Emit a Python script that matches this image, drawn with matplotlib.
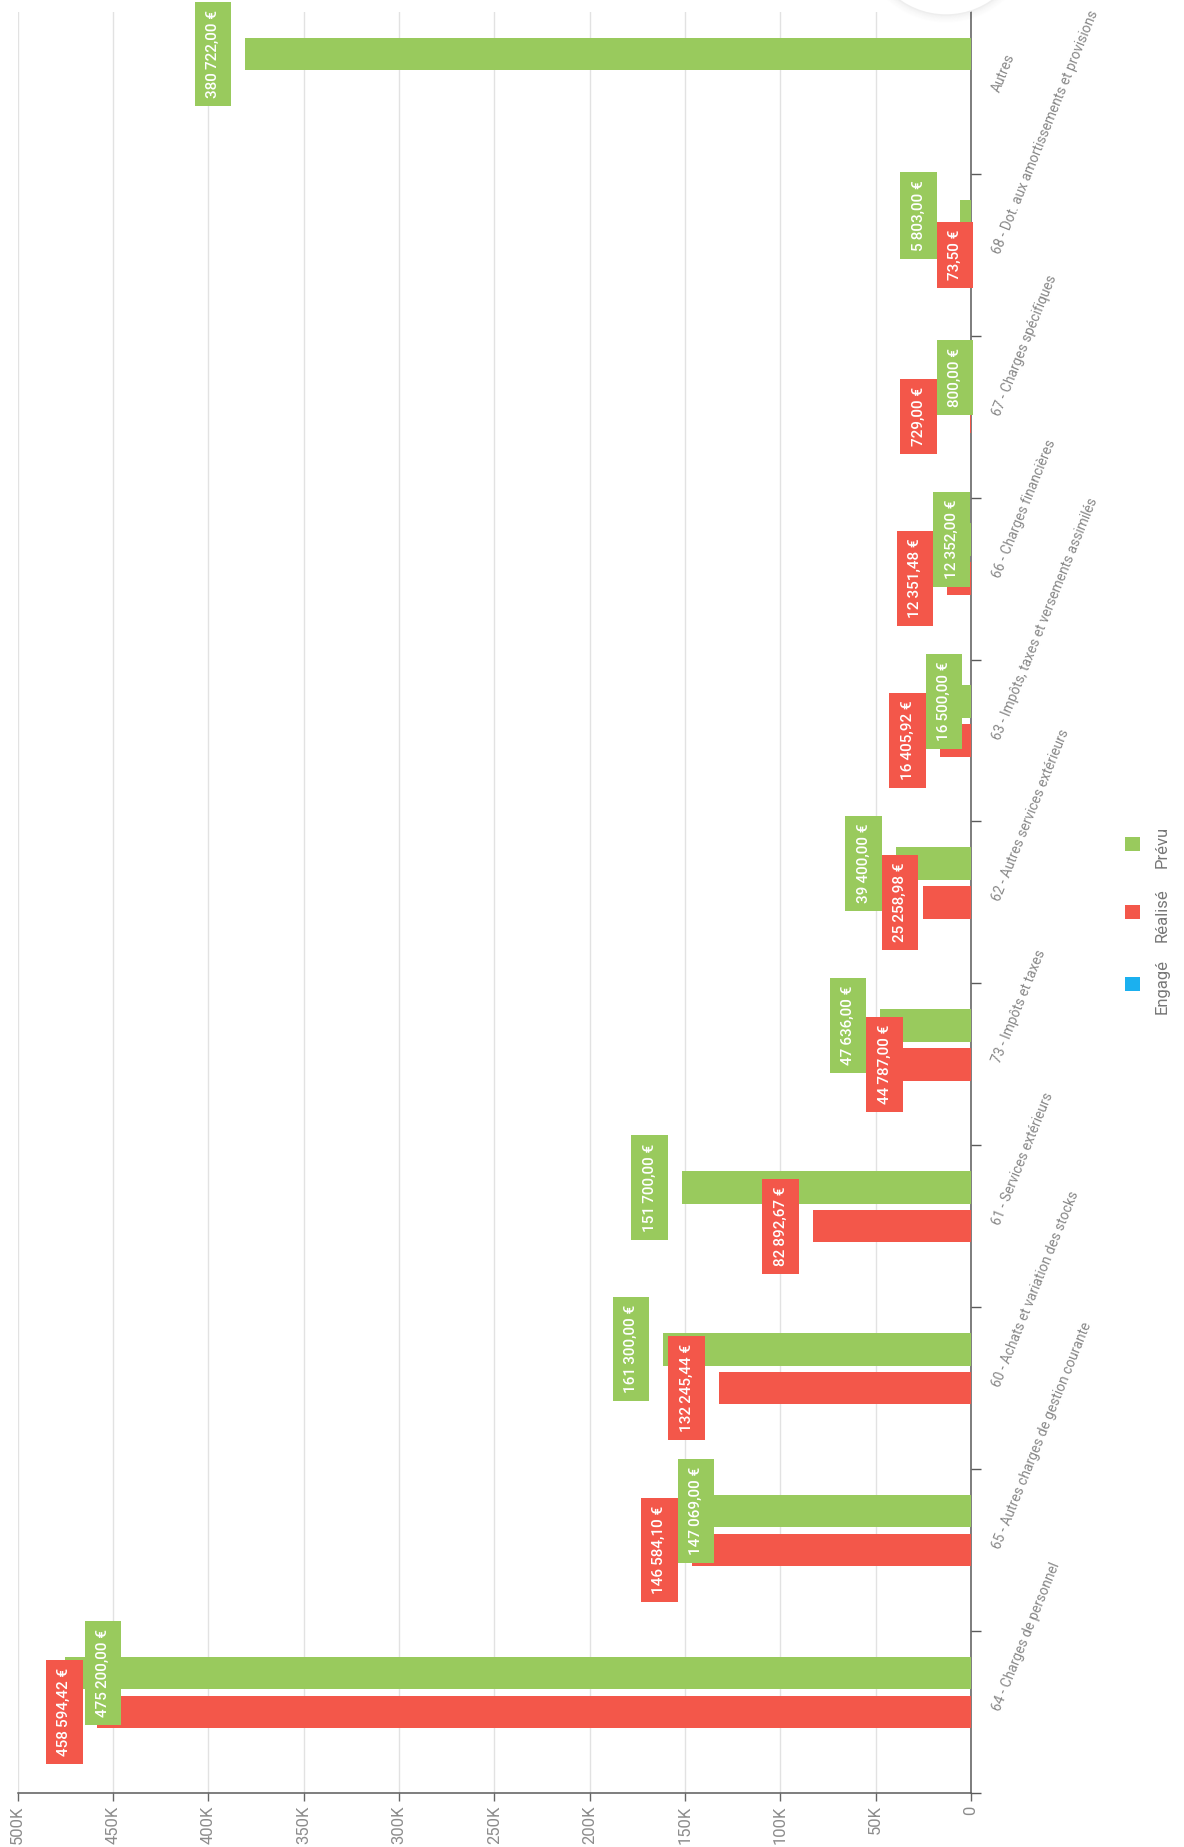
import numpy as np
import matplotlib
matplotlib.use('Agg')
import matplotlib.pyplot as plt
import matplotlib.patches as mpatches

# ─── DATA ─────────────────────────────────────────────────────────────────
categories = [
    "64 - Charges de personnel",
    "65 - Autres charges de gestion courante",
    "60 - Achats et variation des stocks",
    "61 - Services extérieurs",
    "73 - Impôts et taxes",
    "62 - Autres services extérieurs",
    "63 - Impôts, taxes et versements assimilés",
    "66 - Charges financières",
    "67 - Charges spécifiques",
    "68 - Dot. aux amortissements et provisions",
    "Autres",
]
prevu   = [475200.00, 147069.00, 161300.00, 151700.00, 47636.00, 39400.00,
           16500.00, 12352.00, 800.00, 5803.00, 380722.00]
realise = [458594.42, 146584.10, 132245.44, 82892.67, 44787.00, 25258.98,
           16405.92, 12351.48, 729.00, 73.50, 0.0]
engage  = [0.0] * len(categories)

x_ticks = np.arange(0, 500001, 50000)

GREEN = '#99ca5d'
RED = '#f3574a'
BLUE = '#1bb0ef'
FONT = ['Roboto', 'DejaVu Sans']

W_PX, H_PX = 1184, 1847
X0, X1 = 17.7, 971.0      # pixel x of 500K and 0
Y0, Y1 = 11.8, 1793.0     # pixel y of plot top / bottom
XMAX = 500000

fig = plt.figure(figsize=(W_PX / 100, H_PX / 100), dpi=100, facecolor='white')
ax = fig.add_axes([X0 / W_PX, 1 - Y1 / H_PX, (X1 - X0) / W_PX, (Y1 - Y0) / H_PX])
ax.set_facecolor('none')

y = np.arange(len(categories))
OFF, BW = 0.24, 0.2
ax.barh(y + OFF, prevu, height=BW, color=GREEN, zorder=3)
ax.barh(y, realise, height=BW, color=RED, zorder=3)
ax.barh(y - OFF, engage, height=BW, color=BLUE, zorder=3)

ax.set_xlim(XMAX, 0)
ax.set_ylim(-0.5, len(categories) - 0.5)

# value axis
ax.set_xticks(x_ticks)
ax.set_xticklabels(['0' if v == 0 else f'{int(v / 1000)}K' for v in x_ticks],
                   rotation=90, fontsize=12, color='#8c8c8c', family=FONT)
ax.tick_params(axis='x', length=6, width=1, color='#666666', pad=3)
ax.grid(axis='x', color='#e2e2e2', lw=1, zorder=0)

# category axis (zero line on the right)
for side in ['top', 'left']:
    ax.spines[side].set_visible(False)
for side in ['right', 'bottom']:
    ax.spines[side].set_color('#5a5a5a')
    ax.spines[side].set_linewidth(1.1)
ax.yaxis.tick_right()
ax.set_yticks(np.arange(-0.5, len(categories) - 1, 1.0))
ax.tick_params(axis='y', length=7, width=1, color='#5a5a5a', labelright=False, direction='out')

for i, name in enumerate(categories):
    ax.annotate(name, xy=(0, i), xycoords='data', xytext=(21, 0), textcoords='offset points',
                rotation=68, rotation_mode='anchor', ha='left', va='baseline',
                fontsize=9.9, color='#888888', family=FONT, annotation_clip=False)

# ─── DATA LABELS ──────────────────────────────────────────────────────────
PX = XMAX / (X1 - X0)             # euros per pixel
PY = len(categories) / (Y1 - Y0)  # category units per pixel
LW, G_OUT, G_IN, LO = 36.5 * PX, 14 * PX, 20 * PX, -2.4 * PX

def fmt(v):
    s = f"{v:,.2f}".replace(',', '\u2009').replace('.', ',')
    return s + ' €'

def place(v):
    near = v + G_OUT
    if near + LW > XMAX:
        near = v - G_IN - LW
    return near

labels = []
for i in range(len(categories)):
    p, r = prevu[i], realise[i]
    boxes = {}
    if p > 0:
        boxes['p'] = place(p)
    if r > 0:
        boxes['r'] = place(r)
    if len(boxes) == 2 and abs(boxes['p'] - boxes['r']) < LW:
        if abs(p - r) < 1000 or p < r:
            boxes['p'] = boxes['r'] - LW
        else:
            boxes['r'] = boxes['p'] - LW
    if boxes:
        low = min(boxes.values())
        if low < LO:
            for k in boxes:
                boxes[k] += LO - low
    for k, near in boxes.items():
        val, col, yy = (p, GREEN, i + OFF) if k == 'p' else (r, RED, i)
        t = ax.text(near + LW / 2, yy, fmt(val), rotation=90, ha='center', va='center',
                    color='white', fontsize=11, fontweight='medium', family=FONT,
                    zorder=7, clip_on=False)
        labels.append((t, near, yy, col))

fig.canvas.draw()
renderer = fig.canvas.get_renderer()
for t, near, yy, col in labels:
    hpx = t.get_window_extent(renderer).height + 16
    h = hpx * PY
    ax.add_patch(mpatches.Rectangle((near, yy - h / 2), LW, h, fc=col, ec='none',
                                    zorder=6, clip_on=False))

# ─── LEGEND + DECOR (pixel overlay) ──────────────────────────────────────
ov = fig.add_axes([0, 0, 1, 1], zorder=10)
ov.set_xlim(0, W_PX)
ov.set_ylim(H_PX, 0)
ov.axis('off')
ov.patch.set_alpha(0)

leg = [("Engagé", BLUE, 984), ("Réalisé", RED, 912), ("Prévu", GREEN, 844)]
for label, col, yc in leg:
    ov.add_patch(mpatches.Rectangle((1125, yc - 7), 15, 14, fc=col, ec='none'))
    ov.text(1162, yc + 3, label, rotation=90, ha='center', va='center',
            fontsize=12, color='#777777', family=FONT)

for k in range(8):
    ov.add_patch(mpatches.Circle((946, -65), 80 + k, fc='none', ec='black', lw=1.5,
                                 alpha=0.025 * (8 - k) / 8))
ov.add_patch(mpatches.Circle((946, -65), 80, fc='white', ec='#eeeeee', lw=1))

fig.savefig('out.png', dpi=100, facecolor='white')
